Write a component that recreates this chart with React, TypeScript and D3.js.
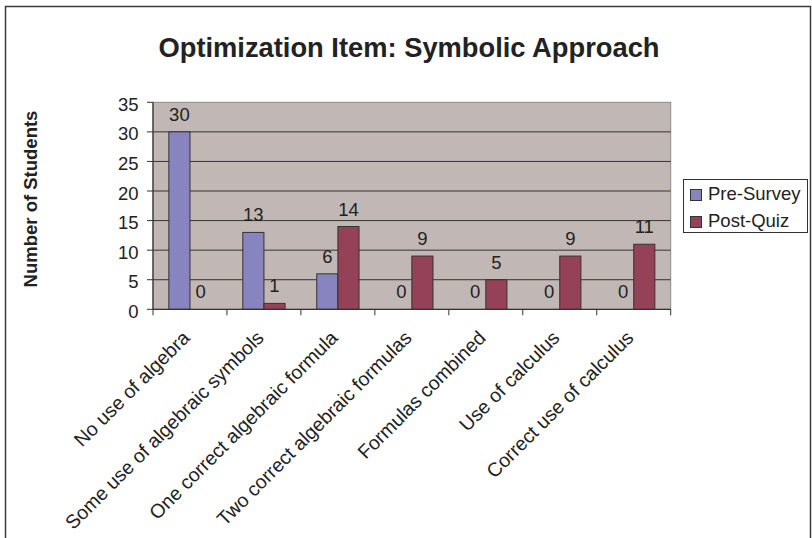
import React from "react";
import * as d3 from "d3";

const categories = [
  "No use of algebra",
  "Some use of algebraic symbols",
  "One correct algebraic formula",
  "Two correct algebraic formulas",
  "Formulas combined",
  "Use of calculus",
  "Correct use of calculus",
];
const preSurvey = [30, 13, 6, 0, 0, 0, 0];
const postQuiz = [0, 1, 14, 9, 5, 9, 11];
const seriesNames = ["Pre-Survey", "Post-Quiz"];
const seriesColors = ["#8884C0", "#954158"];
const yTicks = [0, 5, 10, 15, 20, 25, 30, 35];

const W = 812;
const H = 538;
const FONT = "'Liberation Sans', Arial, Helvetica, sans-serif";

export default function App() {
  const left = 153;
  const right = 670.7;
  const top = 102.3;
  const bottom = 309.3;

  const x = d3.scaleBand<string>().domain(categories).range([left, right]).paddingInner(0).paddingOuter(0);
  const xs = d3.scaleBand<string>().domain(seriesNames).range([0, x.bandwidth()]).paddingInner(0).paddingOuter(0.75);
  const y = d3.scaleLinear().domain([0, 35]).range([bottom, top]);

  const series = [preSurvey, postQuiz];
  const textColor = "#222";
  const fs = 18.5;

  return (
    <div style={{ position: "absolute", left: 0, top: 0 }}>
      <svg width={W} height={H} style={{ display: "block", background: "#fff" }} fontFamily={FONT}>
        {/* outer border */}
        <rect x={5.5} y={6.5} width={805} height={540} fill="#fff" stroke="#3a3a3a" strokeWidth={1.5} />

        {/* title */}
        <text x={409} y={57} textAnchor="middle" fontSize={27.3} fontWeight="bold" fill={textColor}>
          Optimization Item: Symbolic Approach
        </text>

        {/* plot area */}
        <rect x={left} y={top} width={right - left} height={bottom - top} fill="#C1B8B5" stroke="#8a8a8a" strokeWidth={1} />

        {/* gridlines */}
        {yTicks.filter((t) => t > 0 && t < 35).map((t) => (
          <line key={"g" + t} x1={left} x2={right} y1={y(t)} y2={y(t)} stroke="#333" strokeWidth={1} />
        ))}

        {/* bars */}
        {categories.map((c, i) =>
          series.map((s, j) => {
            const v = s[i];
            const bx = (x(c) as number) + (xs(seriesNames[j]) as number);
            const bw = xs.bandwidth();
            return v > 0 ? (
              <rect
                key={c + j}
                x={bx}
                y={y(v)}
                width={bw}
                height={y(0) - y(v)}
                fill={seriesColors[j]}
                stroke="#333"
                strokeWidth={1}
              />
            ) : null;
          })
        )}

        {/* axes */}
        <line x1={left} x2={left} y1={top} y2={bottom} stroke="#333" strokeWidth={1.2} />
        <line x1={left} x2={right} y1={bottom} y2={bottom} stroke="#333" strokeWidth={1.2} />
        {yTicks.map((t) => (
          <g key={"yt" + t}>
            <line x1={left - 6} x2={left} y1={y(t)} y2={y(t)} stroke="#333" strokeWidth={1} />
            <text x={138.5} y={y(t) + 2} textAnchor="end" dominantBaseline="central" fontSize={fs} fill={textColor}>
              {t}
            </text>
          </g>
        ))}
        {[...categories.map((c) => x(c) as number), right].map((px, i) => (
          <line key={"xt" + i} x1={px} x2={px} y1={bottom} y2={bottom + 6} stroke="#333" strokeWidth={1} />
        ))}

        {/* data labels */}
        {categories.map((c, i) =>
          series.map((s, j) => {
            const v = s[i];
            const cx = (x(c) as number) + (xs(seriesNames[j]) as number) + xs.bandwidth() / 2;
            return (
              <text key={"l" + c + j} x={cx} y={y(v) - 11} textAnchor="middle" fontSize={fs} fill={textColor}>
                {v}
              </text>
            );
          })
        )}

        {/* category labels */}
        {categories.map((c) => {
          const cx = (x(c) as number) + x.bandwidth() / 2 + 1;
          const ay = 339;
          return (
            <text
              key={"c" + c}
              x={cx}
              y={ay}
              transform={`rotate(-45, ${cx}, ${ay})`}
              textAnchor="end"
              fontSize={19.5}
              fill={textColor}
            >
              {c}
            </text>
          );
        })}

        {/* y axis title */}
        <text
          x={37}
          y={199}
          transform="rotate(-90, 37, 199)"
          textAnchor="middle"
          fontSize={18.5}
          fontWeight="bold"
          fill={textColor}
        >
          Number of Students
        </text>

        {/* legend */}
        <rect x={683.5} y={179.5} width={124} height={53} fill="#fff" stroke="#333" strokeWidth={1} />
        {seriesNames.map((n, j) => (
          <g key={"lg" + n}>
            <rect x={690.5} y={189.5 + j * 27} width={11} height={11} fill={seriesColors[j]} stroke="#333" strokeWidth={1} />
            <text x={708} y={199.5 + j * 27} fontSize={fs} fill={textColor}>
              {n}
            </text>
          </g>
        ))}
      </svg>
    </div>
  );
}
